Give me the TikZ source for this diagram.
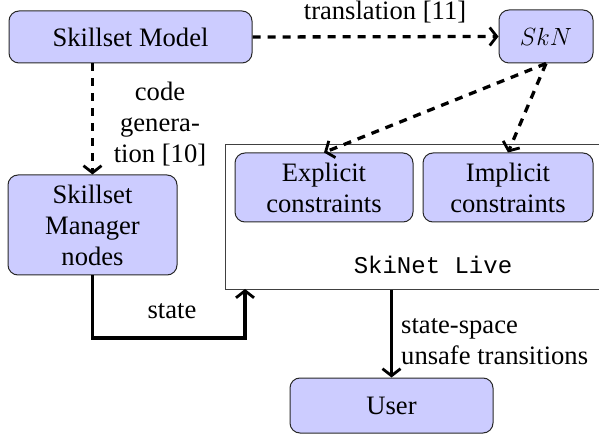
\documentclass[tikz,border=0pt]{standalone}
\usepackage{fontspec}
\setmainfont{Liberation Serif}
\setmonofont{Liberation Mono}
\usetikzlibrary{arrows.meta}
\definecolor{boxfill}{RGB}{204,204,255}
\definecolor{boxline}{RGB}{40,40,40}
\tikzset{
  block/.style={draw=boxline, line width=1pt, fill=boxfill, rounded corners=10pt,
    align=center, inner sep=0pt, font=\fontsize{26.6}{31}\selectfont},
  lbl/.style={inner sep=0pt, font=\fontsize{26.6}{31}\selectfont},
  flow/.style={line width=3.3pt, -{Straight Barb[length=7pt,width=18pt,line width=2.8pt]}},
  dflow/.style={flow, dash pattern=on 8pt off 7pt},
}
\begin{document}
\begin{tikzpicture}[x=1pt, y=-1pt]
\useasboundingbox (0,0) rectangle (599,435);
\clip (0,0) rectangle (599,435);

% outer frame of the live monitor (right side runs off the page)
\node[draw=black!75, line width=1pt, minimum width=380pt, minimum height=145pt,
  inner sep=0pt, anchor=north west] (live) at (225,144) {};
\node[inner sep=0pt, font=\fontsize{24}{28}\ttfamily] (livelbl) at (433,265) {SkiNet Live};

% blocks
\node[block, minimum width=243pt, minimum height=52pt] (model) at (130.5,37) {Skillset Model};
\node[block, minimum width=94pt, minimum height=53pt] (skn) at (546,36.5) {$SkN$};
\node[block, minimum width=169pt, minimum height=100pt] (mgr) at (92.5,225) {Skillset\\Manager\\nodes};
\node[block, minimum width=178pt, minimum height=69pt] (expl) at (324,187.5) {Explicit\\constraints};
\node[block, minimum width=170pt, minimum height=69pt] (impl) at (508,187.5) {Implicit\\constraints};
\node[block, minimum width=203pt, minimum height=55pt] (user) at (391.5,405.5) {User};

% labels
\node[lbl] (ltrans) at (385,12) {translation [11]};
\node[lbl, align=center] (lcode) at (160,124) {code\\genera-\\tion [10]};
\node[lbl] (lstate) at (172,311) {state};
\node[lbl, align=left, anchor=west] (lspace) at (401,342) {state-space\\unsafe transitions};

% connectors
\coordinate (statein) at (245,289);
\draw[dflow] (model.east) -- (skn.west);
\draw[dflow] (mgr.north |- model.south) -- (mgr.north);
\draw[dflow] (skn.south) -- (expl.north);
\draw[dflow] (skn.south) -- (impl.north);
\draw[flow] (mgr.south) |- (245,338) -- (statein);
\draw[flow] (user.north |- live.south) -- (user.north);
\end{tikzpicture}
\end{document}
